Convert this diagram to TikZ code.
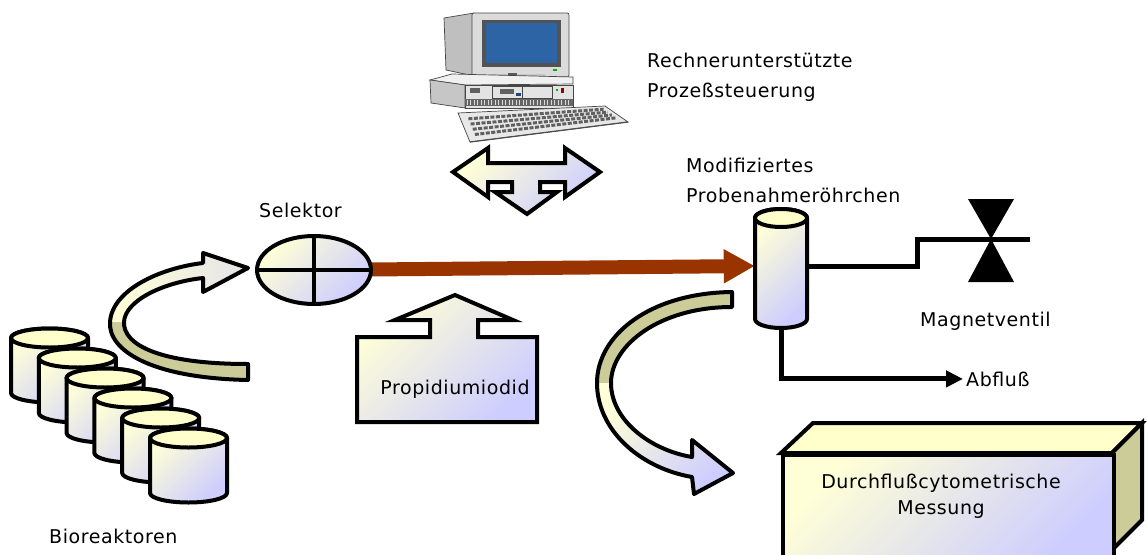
\documentclass[tikz,border=0pt]{standalone}
\usepackage{fontspec}
\setmainfont{DejaVu Sans}[LetterSpace=3]
\usetikzlibrary{arrows.meta,shapes.geometric,calc}
\definecolor{paleyellow}{RGB}{255,255,215}
\definecolor{lavender}{RGB}{205,205,255}
\definecolor{khaki}{RGB}{204,204,153}
\definecolor{lidyellow}{RGB}{255,255,204}
\definecolor{palegray}{RGB}{228,228,232}
\definecolor{rust}{RGB}{153,51,0}
\definecolor{screenblue}{RGB}{45,100,165}
\begin{document}
\begin{tikzpicture}[x=1pt,y=-1pt,
  grad/.style={top color=paleyellow, bottom color=lavender, shading angle=45},
  softgrad/.style={left color=paleyellow, right color=palegray},
  outline/.style={draw=black, line width=4pt, line join=round},
  pipe/.style={draw=black, line width=5pt},
  lbl/.style={font=\fontsize{19}{26}\selectfont, inner sep=0pt},
  case/.style={draw=gray!55!black, line width=0.7pt},
]
\useasboundingbox (0,0) rectangle (1147,554);
\fill[white] (0,0) rectangle (1147,554);

% ---------- computer ----------
\filldraw[case, fill=gray!50] (444,18) -- (474,13) -- (474,76) -- (446,70) -- cycle;
\filldraw[case, fill=gray!28, rounded corners=2pt] (472,13) rectangle (569,77);
\fill[gray!65!black] (482,20) rectangle (561,67);
\fill[screenblue] (486,23) rectangle (557,63);
\fill[green!70!black] (553,69) rectangle (557,71);
\fill[gray!45] (490,74) rectangle (545,80);
\fill[gray!70!black] (508,73) rectangle (517,80);
% system unit
\filldraw[case, fill=gray!12] (430,80) -- (452,74) -- (573,77) -- (573,84) -- (465,85) -- cycle;
\filldraw[case, fill=gray!45] (430,80) -- (465,85) -- (465,108) -- (431,103) -- cycle;
\filldraw[case, fill=gray!22] (465,85) rectangle (573,108);
\fill[gray!80!black] (465,99) rectangle (573,106);
\foreach \x in {467,470.5,...,571} \draw[gray!30, line width=0.6pt] (\x,100) -- (\x,105);
\draw[case] (492,86) rectangle (522,98) (522,86) rectangle (552,98);
\fill[gray!75!black] (470,88) rectangle (480,93);
\fill[gray!75!black] (500,89) rectangle (514,94);
\fill[screenblue!70!black] (516,93) rectangle (521,96);
\fill[green!70!black] (556,89) rectangle (558,91);
\fill[red!60!black] (561,88) rectangle (564,93);
% keyboard
\filldraw[case, fill=gray!18] (458,113) -- (605,106) -- (628,122) -- (470,142) -- cycle;
\foreach \t in {0.2,0.38,0.56,0.74}
  \draw[gray!75!black, line width=3pt, dash pattern=on 4pt off 1.5pt]
    ($(458,113)!\t!(470,142)+(8,0)$) -- ($(605,106)!\t!(628,122)+(-6,0)$);
\draw[gray!60!black, line width=1.2pt] (470,142) -- (628,122);

% ---------- T-shaped exchange arrow ----------
\draw[grad, outline, line join=miter] (453,172) -- (488,148) -- (488,163) -- (565,163) -- (565,148)
  -- (600,172) -- (565,197) -- (565,182) -- (540,182) -- (540,192) -- (557,192) -- (527,214)
  -- (495,192) -- (512,192) -- (512,182) -- (488,182) -- (488,197) -- cycle;

% ---------- bioreactors ----------
\foreach \i in {0,...,5} {
  \pgfmathsetmacro\cx{49.5+27.8*\i}
  \pgfmathsetmacro\cy{338+20*\i}
  \path[grad, outline] (\cx-38.5,\cy) -- (\cx-38.5,\cy+55)
    arc[start angle=180, end angle=0, x radius=38.5, y radius=9.5]
    -- (\cx+38.5,\cy) arc[start angle=0, end angle=-180, x radius=38.5, y radius=9.5] -- cycle;
  \path[fill=lidyellow, outline] (\cx,\cy) ellipse[x radius=38.5, y radius=9.5];
}

% ---------- curved arrow: bioreactors to selector ----------
\path[fill=khaki] (248,380) .. controls (150,378) and (108,350) .. (110,322)
  -- (124,322) .. controls (123,345) and (160,364) .. (248,364) -- cycle;
\path[softgrad] (110,322) .. controls (112,290) and (160,268) .. (203,263)
  -- (203,253) -- (248,268) -- (203,292) -- (203,278)
  .. controls (165,282) and (125,300) .. (124,322) -- cycle;
\draw[outline] (248,380) .. controls (150,378) and (108,350) .. (110,322)
  .. controls (112,290) and (160,268) .. (203,263)
  -- (203,253) -- (248,268) -- (203,292) -- (203,278)
  .. controls (165,282) and (125,300) .. (124,322)
  .. controls (123,345) and (160,364) .. (248,364) -- cycle;

% ---------- selector, transfer line, sampling tube ----------
\node[inner sep=0pt, minimum width=52pt, minimum height=124pt] (tube) at (781,266) {};
\coordinate (selc) at (314,270);
\draw[rust, line width=14pt, -{Triangle[length=31pt, width=32pt]}] (selc) -- (tube.west);
\node[ellipse, grad, outline, minimum width=114pt, minimum height=68pt, inner sep=0pt] (sel) at (selc) {};
\draw[line width=4pt] (sel.north) -- (sel.south) (sel.west) -- (sel.east);

\path[grad, outline] (755,218) -- (755,319)
  arc[start angle=180, end angle=0, x radius=26, y radius=9]
  -- (807,218) arc[start angle=0, end angle=-180, x radius=26, y radius=9] -- cycle;
\path[fill=lidyellow, outline] (781,218) ellipse[x radius=26, y radius=9];

% ---------- valve branch ----------
\coordinate (valve) at (991,239);
\coordinate (pipeend) at (1030,239);
\draw[pipe] (tube.east) -- (917,266) -- (917,239) -- (valve) -- (pipeend);
\fill (968,199) -- (1014,199) -- (valve) -- cycle;
\fill (968,282) -- (1014,282) -- (valve) -- cycle;

% ---------- outflow ----------
\node[lbl, inner sep=3pt, anchor=base west] (abfl) at (963,386) {Abfluß};
\draw[pipe, -{Triangle[length=17pt, width=16pt]}] (tube.south) |- (abfl.west);

% ---------- propidium iodide supply ----------
\draw[grad, outline, line join=miter] (357,337) -- (430,337) -- (430,320) -- (395,320) -- (455,295)
  -- (513,320) -- (478,320) -- (478,337) -- (537,337) -- (537,422) -- (357,422) -- cycle;

% ---------- curved arrow: tube to cytometer ----------
\path[fill=khaki] (732,292) .. controls (650,293) and (597,335) .. (597,383)
  -- (611,383) .. controls (611,345) and (660,307) .. (732,307) -- cycle;
\path[grad] (597,383) .. controls (597,430) and (640,468) .. (692,477)
  -- (694,494) -- (733,473) -- (692,440) -- (692,457)
  .. controls (650,450) and (611,420) .. (611,383) -- cycle;
\draw[outline] (732,292) .. controls (650,293) and (597,335) .. (597,383)
  .. controls (597,430) and (640,468) .. (692,477)
  -- (694,494) -- (733,473) -- (692,440) -- (692,457)
  .. controls (650,450) and (611,420) .. (611,383)
  .. controls (611,345) and (660,307) .. (732,307) -- cycle;

% ---------- flow cytometer box ----------
\draw[outline, fill=lidyellow, line join=miter] (781,453) -- (813,423) -- (1142,423) -- (1112,453) -- cycle;
\draw[outline, fill=khaki, line join=miter] (1112,453) -- (1142,423) -- (1142,520) -- (1112,550) -- cycle;
\node[grad, outline, line join=miter, minimum width=331pt, minimum height=105pt, inner sep=0pt,
  anchor=north west] (meas) at (781,453) {};

% ---------- labels ----------
\node[lbl, anchor=base west] (rech) at (647,67) {Rechnerunterstützte};
\node[lbl, anchor=base west] (proz) at (647,97) {Prozeßsteuerung};
\node[lbl, anchor=base west] (modi) at (686,172) {Modifiziertes};
\node[lbl, anchor=base west] (probe) at (686,202) {Probenahmeröhrchen};
\node[lbl, anchor=base west] (selt) at (259,217) {Selektor};
\node[lbl, anchor=base west] (bio) at (49,543) {Bioreaktoren};
\node[lbl, anchor=base west] (mv) at (920,326) {Magnetventil};
\node[lbl, anchor=base] (pi) at (455,394) {Propidiumiodid};
\node[lbl, align=center, anchor=base] (fcm) at (941,514) {Durchflußcytometrische\\Messung};
\end{tikzpicture}
\end{document}
